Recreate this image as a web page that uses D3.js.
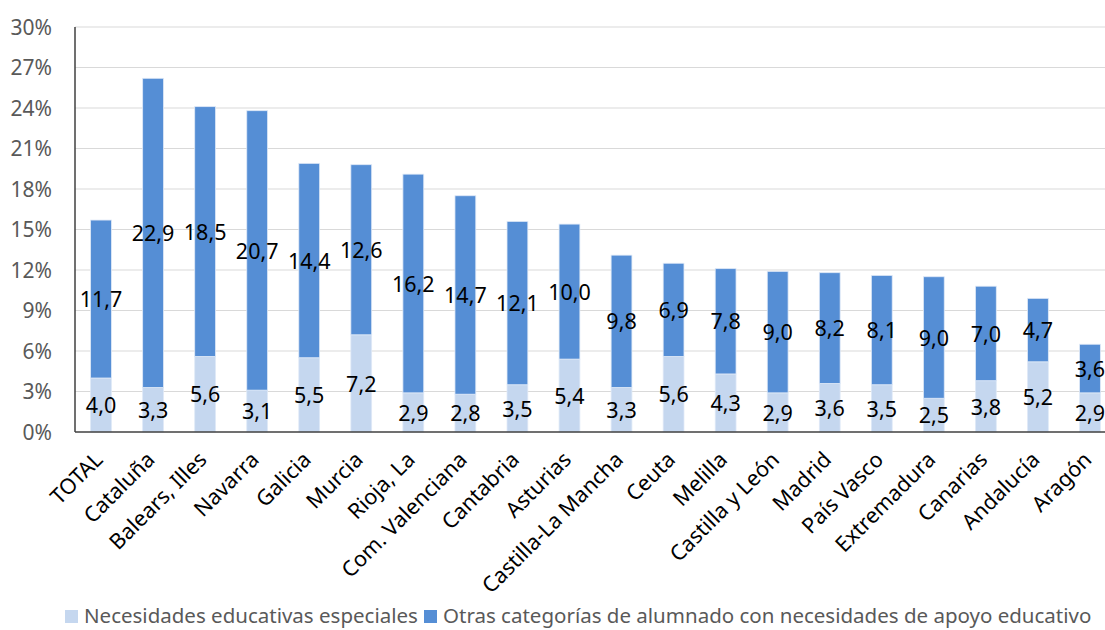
<!DOCTYPE html>
<html>
<head>
<meta charset="utf-8">
<script src="https://cdn.jsdelivr.net/npm/d3@7"></script>
<style>
  body { margin: 0; background: #fff; }
  svg { display: block; font-family: "Noto Sans", "Open Sans", sans-serif; }
</style>
</head>
<body>
<div id="chart"></div>
<script>
const categories = ['TOTAL', 'Cataluña', 'Balears, Illes', 'Navarra', 'Galicia', 'Murcia', 'Rioja, La',
  'Com. Valenciana', 'Cantabria', 'Asturias', 'Castilla-La Mancha', 'Ceuta', 'Melilla', 'Castilla y León',
  'Madrid', 'País Vasco', 'Extremadura', 'Canarias', 'Andalucía', 'Aragón'];
const nee = [4.0, 3.3, 5.6, 3.1, 5.5, 7.2, 2.9, 2.8, 3.5, 5.4, 3.3, 5.6, 4.3, 2.9, 3.6, 3.5, 2.5, 3.8, 5.2, 2.9];
const otras = [11.7, 22.9, 18.5, 20.7, 14.4, 12.6, 16.2, 14.7, 12.1, 10.0, 9.8, 6.9, 7.8, 9.0, 8.2, 8.1, 9.0, 7.0, 4.7, 3.6];
const yTicks = [0, 3, 6, 9, 12, 15, 18, 21, 24, 27, 30];
const seriesNames = ['Necesidades educativas especiales', 'Otras categorías de alumnado con necesidades de apoyo educativo'];
const colors = ['#c5d7ef', '#558ed5'];

const width = 1105, height = 630;
const plotLeft = 75, plotTop = 27, plotBottom = 432;

const svg = d3.select('#chart').append('svg')
  .attr('width', width)
  .attr('height', height);

const x = d3.scaleBand()
  .domain(categories)
  .range([plotLeft, plotLeft + categories.length * 52.05])
  .paddingInner(0.6)
  .paddingOuter(0.3);

const y = d3.scaleLinear().domain([0, 30]).range([plotBottom, plotTop]);

const fmt = v => d3.format('.1f')(v).replace('.', ',');

// gridlines
svg.append('g')
  .selectAll('line')
  .data(yTicks.filter(t => t > 0))
  .enter().append('line')
  .attr('x1', plotLeft).attr('x2', width)
  .attr('y1', d => y(d)).attr('y2', d => y(d))
  .attr('stroke', '#d9d9d9')
  .attr('stroke-width', 1);

// y tick labels
svg.append('g')
  .selectAll('text')
  .data(yTicks)
  .enter().append('text')
  .attr('x', 52)
  .attr('y', d => y(d))
  .attr('dy', '0.36em')
  .attr('text-anchor', 'end')
  .attr('fill', '#595959')
  .attr('font-size', 21)
  .text(d => d + '%');

const rows = categories.map((c, i) => ({ name: c, nee: nee[i], otras: otras[i] }));
const stack = d3.stack().keys(['nee', 'otras'])(rows);

const layer = svg.selectAll('.layer')
  .data(stack)
  .enter().append('g')
  .attr('class', 'layer')
  .attr('fill', (d, i) => colors[i]);

layer.selectAll('rect')
  .data(d => d)
  .enter().append('rect')
  .attr('x', d => x(d.data.name))
  .attr('width', x.bandwidth())
  .attr('y', d => y(d[1]))
  .attr('height', d => y(d[0]) - y(d[1]))
  .attr('stroke', '#dfe9f7')
  .attr('stroke-width', 0.8);

// data labels
layer.selectAll('text')
  .data(d => d)
  .enter().append('text')
  .attr('x', d => x(d.data.name) + x.bandwidth() / 2)
  .attr('y', d => y((d[0] + d[1]) / 2))
  .attr('dy', '0.38em')
  .attr('text-anchor', 'middle')
  .attr('fill', '#000')
  .attr('font-size', 21.5)
  .text(d => fmt(d[1] - d[0]));

// axes lines
svg.append('line')
  .attr('x1', plotLeft).attr('x2', plotLeft)
  .attr('y1', plotTop).attr('y2', plotBottom)
  .attr('stroke', '#404040').attr('stroke-width', 1.5);
svg.append('line')
  .attr('x1', plotLeft).attr('x2', width)
  .attr('y1', plotBottom).attr('y2', plotBottom)
  .attr('stroke', '#404040').attr('stroke-width', 1.5);

// category labels
svg.append('g')
  .selectAll('text')
  .data(categories)
  .enter().append('text')
  .attr('transform', d => `translate(${x(d) + x.bandwidth() / 2 + 3},${plotBottom + 29}) rotate(-45)`)
  .attr('text-anchor', 'end')
  .attr('fill', '#000')
  .attr('font-size', 21.5)
  .text(d => d);

// legend
const legend = svg.append('g').attr('font-size', 20.5).attr('fill', '#595959');
const legendX = [65, 424];
seriesNames.forEach((s, i) => {
  legend.append('rect')
    .attr('x', legendX[i]).attr('y', 610)
    .attr('width', 13).attr('height', 13)
    .attr('fill', colors[i]);
  legend.append('text')
    .attr('x', legendX[i] + 19).attr('y', 616)
    .attr('dy', '0.36em')
    .text(s);
});
</script>
</body>
</html>
